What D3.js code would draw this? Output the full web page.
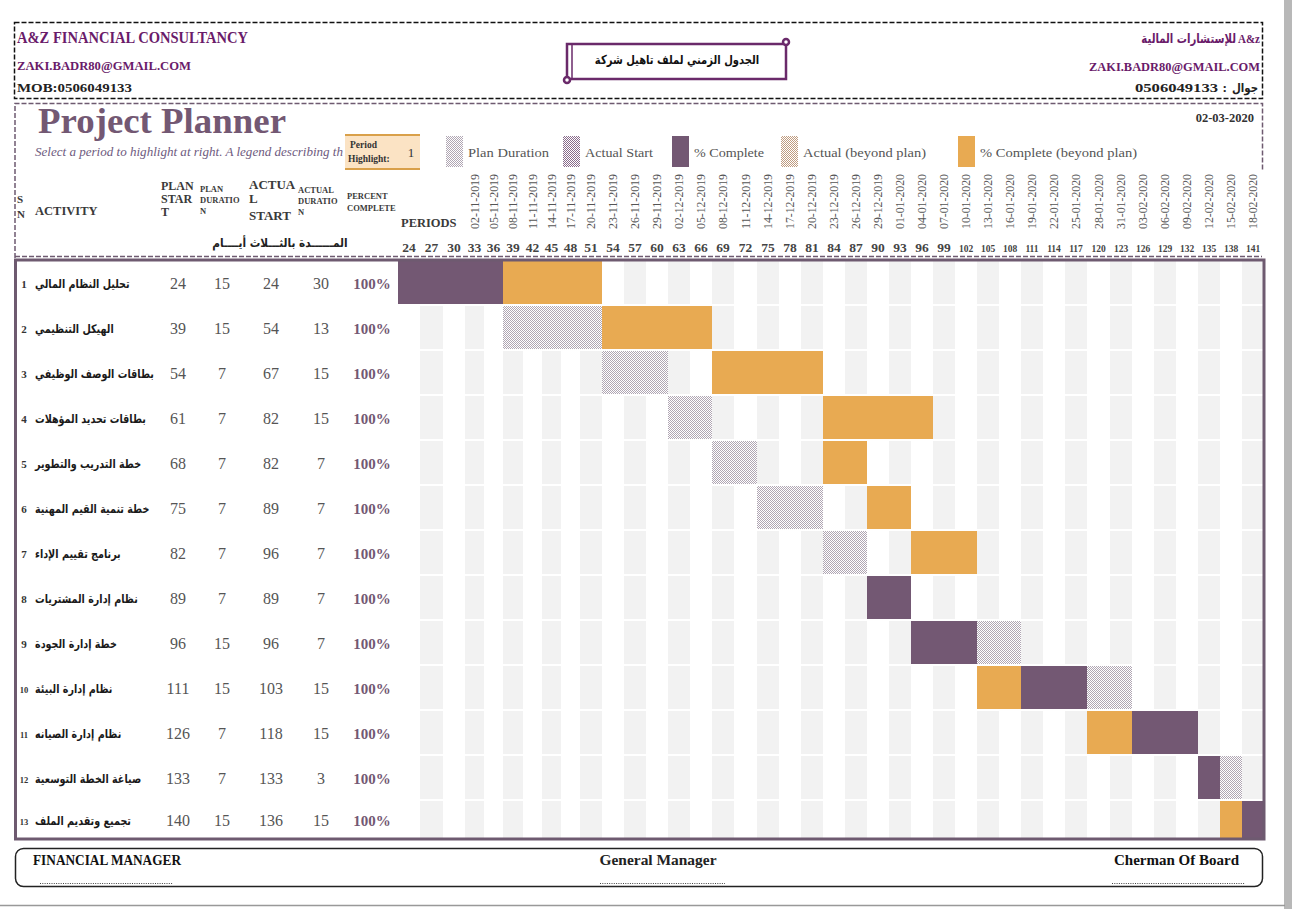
<!DOCTYPE html>
<html>
<head>
<meta charset="utf-8">
<script src="https://cdn.jsdelivr.net/npm/d3@7"></script>
<style>
  body { margin: 0; background: #fff; }
  svg { display: block; }
  text { font-family: "Liberation Serif", serif; }
  .ar { font-family: "DejaVu Sans", sans-serif; }
</style>
</head>
<body>
<svg id="chart" width="1292" height="909"></svg>
<script>
// activities and their plan / actual values
const activities = [
  "تحليل النظام المالي",
  "الهيكل التنظيمي",
  "بطاقات الوصف الوظيفي",
  "بطاقات تحديد المؤهلات",
  "خطة التدريب والتطوير",
  "خطة تنمية القيم المهنية",
  "برنامج تقييم الإداء",
  "نظام إدارة المشتريات",
  "خطة إدارة الجودة",
  "نظام إدارة البيئة",
  "نظام إدارة الصيانه",
  "صياغة الخطة التوسعية",
  "تجميع وتقديم الملف"
];
const planStart   = [24, 39, 54, 61, 68, 75, 82, 89, 96, 111, 126, 133, 140];
const planDur     = [15, 15, 7, 7, 7, 7, 7, 7, 15, 15, 7, 7, 15];
const actualStart = [24, 54, 67, 82, 82, 89, 96, 89, 96, 103, 118, 133, 136];
const actualDur   = [30, 13, 15, 15, 7, 7, 7, 7, 7, 15, 15, 3, 15];
const percentDone = [100, 100, 100, 100, 100, 100, 100, 100, 100, 100, 100, 100, 100];

// period columns (3 days each) and the dates printed above them
const periods = [24, 27, 30, 33, 36, 39, 42, 45, 48, 51, 54, 57, 60, 63, 66, 69, 72, 75, 78, 81,
                 84, 87, 90, 93, 96, 99, 102, 105, 108, 111, 114, 117, 120, 123, 126, 129, 132, 135, 138, 141];
const periodDates = [
  "02-11-2019", "05-11-2019", "08-11-2019", "11-11-2019", "14-11-2019", "17-11-2019", "20-11-2019",
  "23-11-2019", "26-11-2019", "29-11-2019", "02-12-2019", "05-12-2019", "08-12-2019", "11-12-2019",
  "14-12-2019", "17-12-2019", "20-12-2019", "23-12-2019", "26-12-2019", "29-12-2019", "01-01-2020",
  "04-01-2020", "07-01-2020", "10-01-2020", "13-01-2020", "16-01-2020", "19-01-2020", "22-01-2020",
  "25-01-2020", "28-01-2020", "31-01-2020", "03-02-2020", "06-02-2020", "09-02-2020", "12-02-2020",
  "15-02-2020", "18-02-2020"
];
const datedPeriods = periods.slice(3);

const legendItems = ["Plan Duration", "Actual Start", "% Complete", "Actual (beyond plan)", "% Complete (beyond plan)"];

const purple = "#735873";
const orange = "#e8aa52";
const frameCol = "#6e5a70";
const stripe = "#f2f2f2";

const svg = d3.select("#chart");
const defs = svg.append("defs");

function hatch(id, c) {
    const p = defs.append("pattern").attr("id", id)
        .attr("width", 2).attr("height", 2).attr("patternUnits", "userSpaceOnUse");
    p.append("rect").attr("width", 2).attr("height", 2).attr("fill", "#fff");
    p.append("rect").attr("width", 1).attr("height", 1).attr("fill", c);
    p.append("rect").attr("x", 1).attr("y", 1).attr("width", 1).attr("height", 1).attr("fill", c);
}
hatch("planHatch", "#b0a6b3");
hatch("actualHatch", "#8a6c8c");
hatch("beyondHatch", "#c09c80");

// page frame on the right / bottom
svg.append("rect").attr("x", 1284).attr("y", 0).attr("width", 8).attr("height", 909).attr("fill", "#b8b8b8");
svg.append("line").attr("x1", 0).attr("x2", 1285).attr("y1", 905.5).attr("y2", 905.5)
    .attr("stroke", "#999").attr("stroke-width", 1.5);

function txt(x, y, s, o) {
    o = o || {};
    const t = svg.append("text").attr("x", x).attr("y", y).text(s)
        .attr("font-size", o.size || 12)
        .attr("font-weight", o.bold ? "bold" : "normal")
        .attr("fill", o.fill || "#333")
        .attr("text-anchor", o.anchor || "start");
    if (o.italic) t.attr("font-style", "italic");
    if (o.cls) t.attr("class", o.cls);
    if (o.len) t.attr("textLength", o.len).attr("lengthAdjust", "spacingAndGlyphs");
    return t;
}

// arabic text squeezed horizontally (keeps the letters joined)
function arTxt(x, y, s, size, sx, anchor, fill) {
    return svg.append("text")
        .attr("class", "ar")
        .attr("transform", `translate(${x},${y}) scale(${sx},1)`)
        .attr("font-size", size)
        .attr("font-weight", "bold")
        .attr("fill", fill || "#1a1a1a")
        .attr("text-anchor", anchor || "start")
        .text(s);
}

// ---------- header box ----------
svg.append("rect").attr("x", 14.5).attr("y", 22.5).attr("width", 1248).attr("height", 76)
    .attr("fill", "none").attr("stroke", "#111").attr("stroke-width", 1.5).attr("stroke-dasharray", "5 2");

txt(17, 43, "A&Z FINANCIAL CONSULTANCY", {size: 16, bold: true, fill: "#6a1b6a", len: 231});
txt(17, 70, "ZAKI.BADR80@GMAIL.COM", {size: 13.5, bold: true, fill: "#6a1b6a", len: 174});
txt(17, 92, "MOB:0506049133", {size: 13.5, bold: true, fill: "#222", len: 115});

txt(1260, 43, "A&z", {size: 13, bold: true, fill: "#6a1b6a", anchor: "end", len: 22});
arTxt(1236, 43, "للإستشارات المالية", 13, 0.78, "end", "#6a1b6a");
txt(1260, 71, "ZAKI.BADR80@GMAIL.COM", {size: 13.5, bold: true, fill: "#6a1b6a", anchor: "end", len: 171});
arTxt(1258, 92, "جوال", 12, 0.85, "end", "#222");
txt(1227, 92, ":", {size: 13.5, bold: true, fill: "#222", anchor: "end"});
txt(1218, 92, "0506049133", {size: 13.5, bold: true, fill: "#222", anchor: "end", len: 83});

// scroll banner
const banner = svg.append("g").attr("fill", "#fff").attr("stroke", "#6a2a6a").attr("stroke-width", 2.5);
banner.append("rect").attr("x", 567).attr("y", 44).attr("width", 219).attr("height", 35);
banner.append("line").attr("x1", 572).attr("x2", 572).attr("y1", 44).attr("y2", 79).attr("stroke-width", 1.5);
banner.append("circle").attr("cx", 786).attr("cy", 42).attr("r", 3);
banner.append("circle").attr("cx", 567).attr("cy", 80).attr("r", 3);
arTxt(677, 64, "الجدول الزمني لملف تاهيل شركة", 12.5, 0.8, "middle", "#111");

// ---------- planner heading box ----------
svg.append("path")
    .attr("d", "M15,258 V103.5 H1262.5 V170")
    .attr("fill", "none").attr("stroke", frameCol).attr("stroke-width", 1.5).attr("stroke-dasharray", "5 2");
svg.append("line").attr("x1", 15).attr("x2", 1262).attr("y1", 256.5).attr("y2", 256.5)
    .attr("stroke", frameCol).attr("stroke-width", 1.5).attr("stroke-dasharray", "5 2");

txt(38, 133, "Project Planner", {size: 35, bold: true, fill: purple, len: 248});
txt(1254, 122, "02-03-2020", {size: 12.5, bold: true, fill: "#333", anchor: "end"});
txt(35, 156, "Select a period to highlight at right.  A legend describing th",
    {size: 13, italic: true, fill: "#6e5a7e", len: 308});

// period highlight box
svg.append("rect").attr("x", 345).attr("y", 134).attr("width", 75).attr("height", 36).attr("fill", "#fbe3c4");
svg.append("line").attr("x1", 345).attr("x2", 420).attr("y1", 135).attr("y2", 135).attr("stroke", "#d9a04a").attr("stroke-width", 2);
svg.append("line").attr("x1", 345).attr("x2", 420).attr("y1", 169).attr("y2", 169).attr("stroke", "#d9a04a").attr("stroke-width", 2);
txt(350, 148, "Period", {size: 9.5, bold: true, fill: "#333"});
txt(348, 162, "Highlight:", {size: 9.5, bold: true, fill: "#333"});
txt(411, 157, "1", {size: 13, fill: "#333", anchor: "middle"});

// legend
const legendFill = ["url(#planHatch)", "url(#actualHatch)", purple, "url(#beyondHatch)", orange];
const legendSwX = [446, 563, 672, 781, 958];
const legendLen = [81, 68, 70, 123, 157];
legendItems.forEach((name, i) => {
    svg.append("rect").attr("x", legendSwX[i]).attr("y", 136).attr("width", 17).attr("height", 31)
        .attr("fill", legendFill[i]);
    txt(legendSwX[i] + 22, 157, name, {size: 13.5, fill: "#555", len: legendLen[i]});
});

// ---------- column headers ----------
const hd = "#3a3a3a";
txt(17, 203, "S", {size: 11, bold: true, fill: hd});
txt(17, 218, "N", {size: 11, bold: true, fill: hd});
txt(35, 215, "ACTIVITY", {size: 12.5, bold: true, fill: hd});
txt(161, 190, "PLAN", {size: 12, bold: true, fill: hd});
txt(161, 203, "STAR", {size: 12, bold: true, fill: hd});
txt(161, 216, "T", {size: 12, bold: true, fill: hd});
txt(200, 192, "PLAN", {size: 8.5, bold: true, fill: hd});
txt(200, 203, "DURATIO", {size: 8.5, bold: true, fill: hd});
txt(200, 214, "N", {size: 8.5, bold: true, fill: hd});
txt(249, 189, "ACTUA", {size: 13, bold: true, fill: hd});
txt(249, 203, "L", {size: 13, bold: true, fill: hd});
txt(249, 220, "START", {size: 13, bold: true, fill: hd});
txt(298, 193, "ACTUAL", {size: 8.5, bold: true, fill: hd});
txt(298, 204, "DURATIO", {size: 8.5, bold: true, fill: hd});
txt(298, 215, "N", {size: 8.5, bold: true, fill: hd});
txt(347, 199, "PERCENT", {size: 8.5, bold: true, fill: hd});
txt(347, 211, "COMPLETE", {size: 8.5, bold: true, fill: hd});
txt(401, 227, "PERIODS", {size: 12.5, bold: true, fill: hd});
arTxt(280, 247, "المــــــدة بالثـــلاث أيــــام", 12, 0.88, "middle", "#222");

// ---------- scales ----------
// Excel columns 33..48 are a bit narrower than the rest
const xScale = d3.scaleLinear().domain([24, 33, 51, 144]).range([398, 465, 580, 1264]);
const colX = p => Math.round(xScale(p));
const colW = p => Math.round(xScale(p + 3)) - Math.round(xScale(p));
const yScale = d3.scaleBand().domain(d3.range(activities.length))
    .range([261, 261 + 13 * 45 - 2]).paddingInner(2 / 45);

// period numbers
svg.append("g").selectAll("text").data(periods).enter().append("text")
    .attr("x", d => colX(d) + colW(d) / 2)
    .attr("y", 252)
    .attr("text-anchor", "middle")
    .attr("font-weight", "bold")
    .attr("font-size", d => d > 99 ? 9.5 : 13.5)
    .attr("fill", "#444")
    .text(d => d);

// dates, vertical
svg.append("g").selectAll("text").data(datedPeriods).enter().append("text")
    .attr("transform", d => `translate(${colX(d) + colW(d) / 2 + 4}, 229) rotate(-90)`)
    .attr("font-size", 11.5)
    .attr("fill", "#555")
    .attr("textLength", 55)
    .attr("lengthAdjust", "spacingAndGlyphs")
    .text((d, i) => periodDates[i]);

// ---------- gantt cells ----------
function cellFill(i, p, k) {
    const inPlan = p >= planStart[i] && p < planStart[i] + planDur[i];
    const inActual = p >= actualStart[i] && p < actualStart[i] + actualDur[i];
    const inDone = p >= actualStart[i] && p < actualStart[i] + actualDur[i] * percentDone[i] / 100;
    if (inDone) return inPlan ? purple : orange;
    if (inActual) return inPlan ? "url(#actualHatch)" : "url(#beyondHatch)";
    if (inPlan) return "url(#planHatch)";
    return k % 2 ? stripe : "#fff";
}

svg.append("clipPath").attr("id", "ganttClip").append("rect")
    .attr("x", 398).attr("y", 259).attr("width", 866).attr("height", 580);

const cells = [];
activities.forEach((a, i) => {
    periods.forEach((p, k) => cells.push({i, p, k}));
});

svg.append("g").attr("clip-path", "url(#ganttClip)")
    .selectAll("rect").data(cells).enter().append("rect")
    .attr("x", d => colX(d.p))
    .attr("y", d => yScale(d.i))
    .attr("width", d => colW(d.p))
    .attr("height", yScale.bandwidth())
    .attr("fill", d => cellFill(d.i, d.p, d.k));

// ---------- table rows ----------
const rowY = i => Math.min(yScale(i) + yScale.bandwidth() / 2, 820) + 5;
activities.forEach((a, i) => {
    const y = rowY(i);
    txt(24, y, i + 1, {size: i < 9 ? 11 : 8.5, bold: true, fill: "#333", anchor: "middle"});
    arTxt(35, y, a, 12, 0.8, "start", "#1a1a1a");
    txt(178, y + 1, planStart[i], {size: 16, fill: "#555", anchor: "middle"});
    txt(222, y + 1, planDur[i], {size: 16, fill: "#555", anchor: "middle"});
    txt(271, y + 1, actualStart[i], {size: 16, fill: "#555", anchor: "middle"});
    txt(321, y + 1, actualDur[i], {size: 16, fill: "#555", anchor: "middle"});
    txt(372, y + 1, percentDone[i] + "%", {size: 15, bold: true, fill: purple, anchor: "middle"});
});

// table frame
svg.append("rect").attr("x", 15.5).attr("y", 260).attr("width", 1248.5).attr("height", 579)
    .attr("fill", "none").attr("stroke", frameCol).attr("stroke-width", 3);

// ---------- footer ----------
svg.append("rect").attr("x", 15.5).attr("y", 848.5).attr("width", 1247).attr("height", 38).attr("rx", 8)
    .attr("fill", "none").attr("stroke", "#222").attr("stroke-width", 1.5);
txt(33, 865, "FINANCIAL MANAGER", {size: 14, bold: true, fill: "#111", len: 148});
txt(658, 865, "General Manager", {size: 14, bold: true, fill: "#222", anchor: "middle", len: 117});
txt(1239, 865, "Cherman Of Board", {size: 14, bold: true, fill: "#111", anchor: "end", len: 125});
[[40, 173], [600, 725], [1112, 1245]].forEach(([a, b]) => {
    svg.append("line").attr("x1", a).attr("x2", b).attr("y1", 883.5).attr("y2", 883.5)
        .attr("stroke", "#444").attr("stroke-width", 1).attr("stroke-dasharray", "1 1.3");
});
</script>
</body>
</html>
